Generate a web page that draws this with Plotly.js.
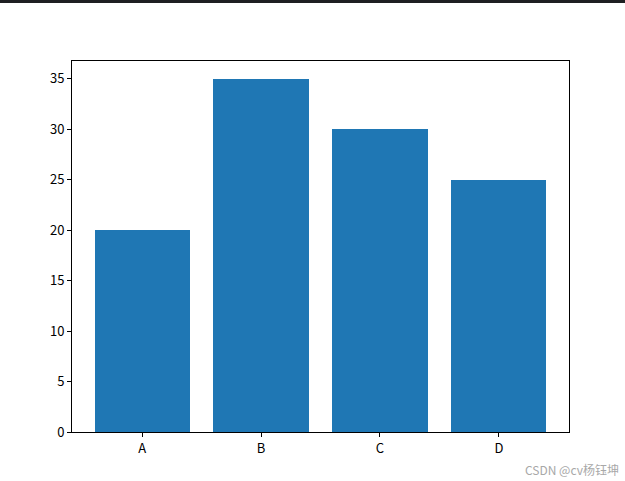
<!DOCTYPE html>
<html>
<head>
<meta charset="utf-8">
<script src="https://cdn.plot.ly/plotly-3.0.1.min.js"></script>
<style>
  html, body { margin: 0; padding: 0; background: #ffffff; }
  #topbar { position: absolute; left: 0; top: 0; width: 625px; height: 3px; background: #1e1f22; z-index: 10; }
  #chart { width: 625px; height: 481px; }
</style>
</head>
<body>
<div id="topbar"></div>
<div id="chart"></div>
<script>
const categories = ["A", "B", "C", "D"];
const values = [20, 35, 30, 25];
const yTicks = [0, 5, 10, 15, 20, 25, 30, 35];
const watermark = "CSDN @cv杨钰坤";

const tickFont = { family: "'Liberation Sans Narrow', 'Noto Sans CJK SC', 'DejaVu Sans Condensed', sans-serif", size: 13, color: "#000000" };

const trace = {
  type: "bar",
  x: categories,
  y: values,
  width: 0.8,
  marker: { color: "#1f77b4", line: { width: 0 } },
  hoverinfo: "x+y"
};

const layout = {
  width: 625,
  height: 481,
  margin: { l: 72, r: 56, t: 61, b: 49, pad: 0 },
  paper_bgcolor: "#ffffff",
  plot_bgcolor: "#ffffff",
  showlegend: false,
  bargap: 0,
  xaxis: {
    type: "category",
    range: [-0.59, 3.59],
    showgrid: false,
    zeroline: false,
    showline: true,
    mirror: true,
    linecolor: "#000000",
    linewidth: 1,
    ticks: "outside",
    ticklen: 4,
    tickwidth: 1,
    tickcolor: "#000000",
    tickfont: tickFont,
    fixedrange: true
  },
  yaxis: {
    range: [0, 36.75],
    tickvals: yTicks,
    ticktext: yTicks.map(String),
    showgrid: false,
    zeroline: false,
    showline: true,
    mirror: true,
    linecolor: "#000000",
    linewidth: 1,
    ticks: "outside",
    ticklen: 4,
    tickwidth: 1,
    tickcolor: "#000000",
    tickfont: tickFont,
    fixedrange: true
  },
  annotations: [{
    text: watermark,
    xref: "paper",
    yref: "paper",
    x: (621 - 72) / 497,
    y: (432 - 469) / 371,
    xanchor: "right",
    yanchor: "middle",
    showarrow: false,
    font: { family: "'Noto Sans CJK SC', 'Noto Sans', sans-serif", size: 12, color: "#a8a8a8" }
  }]
};

Plotly.newPlot("chart", [trace], layout, { staticPlot: true, displayModeBar: false });
</script>
</body>
</html>
